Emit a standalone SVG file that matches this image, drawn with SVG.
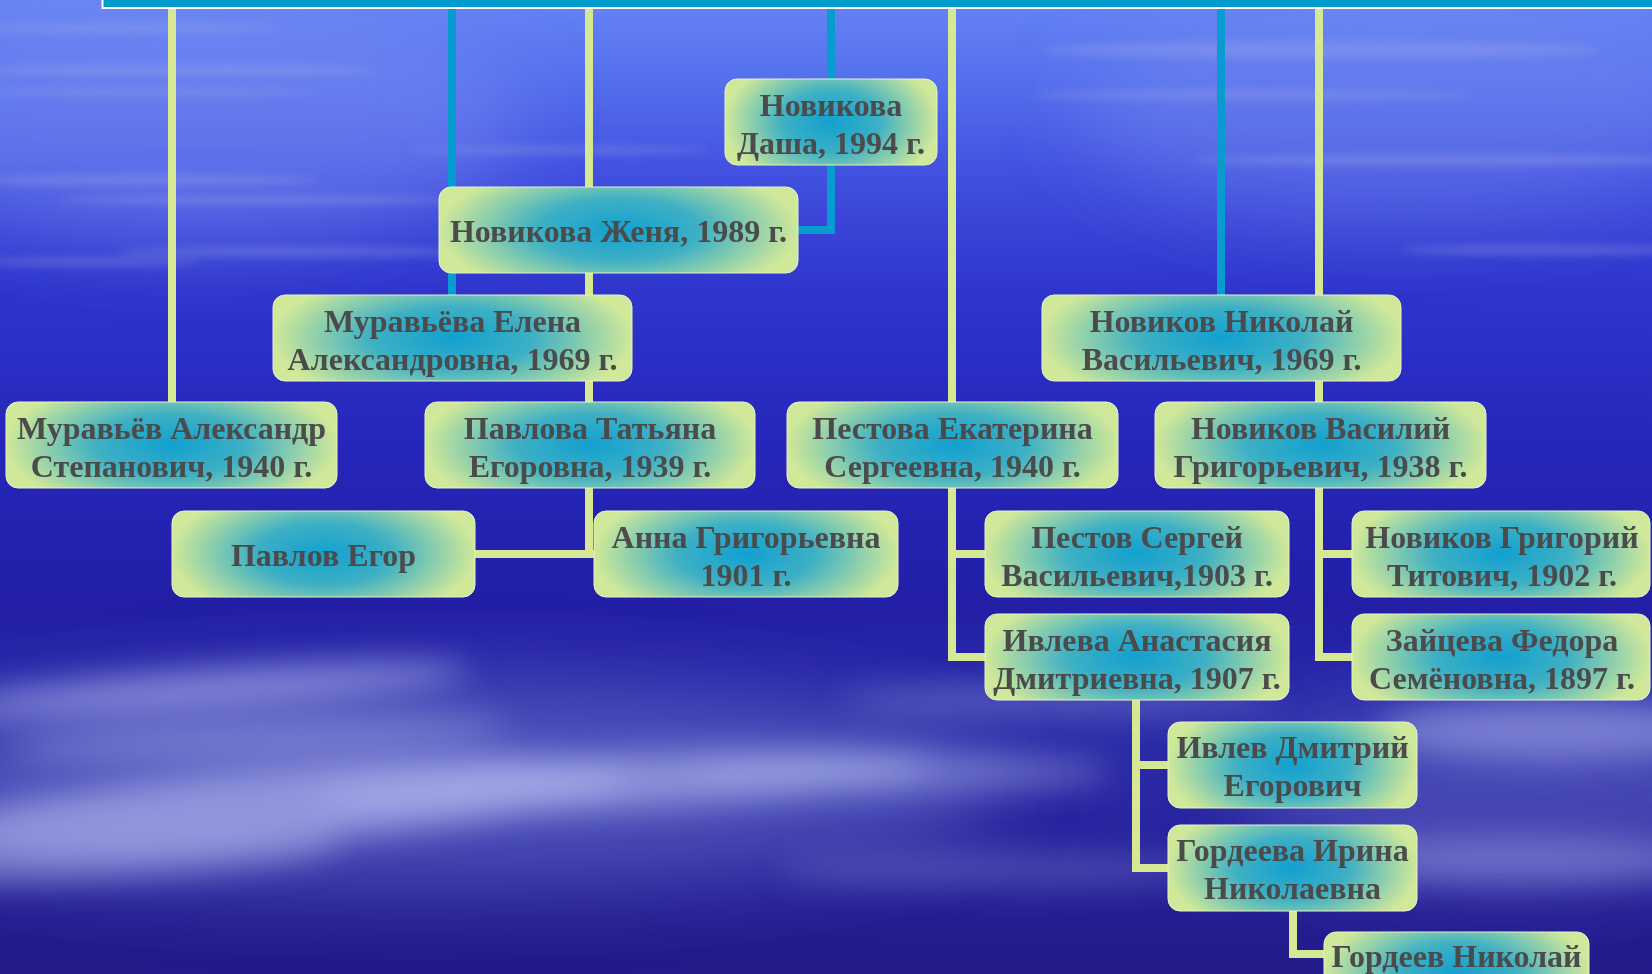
<svg xmlns="http://www.w3.org/2000/svg" width="1652" height="974" viewBox="0 0 1652 974">
<defs>
<linearGradient id="bg" x1="0" y1="0" x2="0" y2="1">
<stop offset="0" stop-color="#6584f4"/>
<stop offset="0.08" stop-color="#5570ee"/>
<stop offset="0.18" stop-color="#4150e0"/>
<stop offset="0.3" stop-color="#2f35cc"/>
<stop offset="0.45" stop-color="#2626bb"/>
<stop offset="0.62" stop-color="#221fa6"/>
<stop offset="0.75" stop-color="#2c2ca8"/>
<stop offset="0.9" stop-color="#25219a"/>
<stop offset="1" stop-color="#221a88"/>
</linearGradient>
<radialGradient id="box" cx="0.5" cy="0.5" r="0.5" gradientTransform="translate(0.5,0.5) scale(1,1.6) translate(-0.5,-0.5)">
<stop offset="0" stop-color="#12a0d0"/>
<stop offset="0.45" stop-color="#3eb0c4"/>
<stop offset="1" stop-color="#cfe899"/>
</radialGradient>
<filter id="blurBig" x="-50%" y="-200%" width="200%" height="500%"><feGaussianBlur stdDeviation="16"/></filter>
<filter id="blurHaze" x="-50%" y="-100%" width="200%" height="300%"><feGaussianBlur stdDeviation="40"/></filter>
<filter id="blurSmall" x="-50%" y="-300%" width="200%" height="700%"><feGaussianBlur stdDeviation="4"/></filter>
<style>
.node rect{fill:url(#box);stroke:#e6f2c8;stroke-width:1;}
.node text{font-family:"Liberation Serif","Times New Roman",serif;font-weight:bold;font-size:32px;fill:#4b4b4b;text-anchor:middle;}
.teal{fill:none;stroke:#089bcf;stroke-width:8;stroke-linejoin:miter;}
.yel{fill:none;stroke:#d6e894;stroke-width:8;stroke-linejoin:miter;}
.cloud{fill:#a6aee8;}
</style>
</defs>
<rect x="0" y="0" width="1652" height="974" fill="url(#bg)"/>
<g id="haze" filter="url(#blurHaze)" fill="#7f92f2">
<ellipse cx="200" cy="120" rx="320" ry="120" opacity="0.45"/>
<ellipse cx="1400" cy="110" rx="320" ry="110" opacity="0.35"/>
<ellipse cx="420" cy="785" rx="580" ry="100" opacity="0.5" fill="#7078d0"/>
<ellipse cx="1500" cy="790" rx="260" ry="90" opacity="0.4" fill="#7078d0"/>
</g>
<g id="clouds-top" filter="url(#blurSmall)" class="cloud" opacity="0.3">
<ellipse cx="120" cy="28" rx="160" ry="5"/>
<ellipse cx="180" cy="70" rx="200" ry="6"/>
<ellipse cx="150" cy="92" rx="170" ry="4"/>
<ellipse cx="140" cy="180" rx="180" ry="6"/>
<ellipse cx="260" cy="200" rx="200" ry="5"/>
<ellipse cx="300" cy="252" rx="180" ry="5"/>
<ellipse cx="80" cy="262" rx="120" ry="4"/>
<ellipse cx="560" cy="150" rx="150" ry="4"/>
<ellipse cx="1320" cy="50" rx="280" ry="9"/>
<ellipse cx="1250" cy="95" rx="220" ry="5"/>
<ellipse cx="1450" cy="160" rx="260" ry="6"/>
<ellipse cx="1550" cy="250" rx="150" ry="5"/>
</g>
<g id="clouds-bottom" filter="url(#blurBig)" class="cloud">
<ellipse cx="210" cy="690" rx="260" ry="18" opacity="0.7" transform="rotate(-4 210 690)"/>
<ellipse cx="260" cy="738" rx="250" ry="16" opacity="0.55" transform="rotate(-3 260 738)"/>
<ellipse cx="280" cy="805" rx="350" ry="38" opacity="0.75" transform="rotate(-5 280 805)"/>
<ellipse cx="620" cy="782" rx="310" ry="26" opacity="0.7" transform="rotate(-3 620 782)"/>
<ellipse cx="900" cy="772" rx="210" ry="18" opacity="0.5"/>
<ellipse cx="130" cy="858" rx="210" ry="20" opacity="0.55" transform="rotate(-4 130 858)"/>
<ellipse cx="1060" cy="700" rx="220" ry="14" opacity="0.4"/>
<ellipse cx="1560" cy="730" rx="180" ry="30" opacity="0.55"/>
<ellipse cx="1520" cy="860" rx="200" ry="24" opacity="0.45"/>
<ellipse cx="1000" cy="870" rx="220" ry="16" opacity="0.3"/>
</g>
<rect x="102.5" y="-10" width="1600" height="18" fill="#009ccc" stroke="#ffffff" stroke-width="2"/>
<g id="connectors">
<path class="teal" d="M452,9 V295"/>
<path class="teal" d="M831,9 V230 H798"/>
<path class="teal" d="M1221,9 V295"/>
<path class="yel" d="M172,9 V402"/>
<path class="yel" d="M589,9 V554 M475,554 H594"/>
<path class="yel" d="M952,9 V657 H985 M952,554 H985"/>
<path class="yel" d="M1319,9 V657 H1352 M1319,554 H1352"/>
<path class="yel" d="M1136,700 V868 H1168 M1136,765 H1168"/>
<path class="yel" d="M1293,911 V954 H1324"/>
</g>
<g id="n-dasha" class="node"><rect x="725" y="79" width="212" height="86" rx="12"/><text x="831" y="116">Новикова</text><text x="831" y="154">Даша, 1994 г.</text></g>
<g id="n-zhenya" class="node"><rect x="439" y="187" width="359" height="86" rx="12"/><text x="618.5" y="242">Новикова Женя, 1989 г.</text></g>
<g id="n-elena" class="node"><rect x="273" y="295" width="359" height="86" rx="12"/><text x="452.5" y="332">Муравьёва Елена</text><text x="452.5" y="370">Александровна, 1969 г.</text></g>
<g id="n-nikolai" class="node"><rect x="1042" y="295" width="359" height="86" rx="12"/><text x="1221.5" y="332">Новиков Николай</text><text x="1221.5" y="370">Васильевич, 1969 г.</text></g>
<g id="n-alexandr" class="node"><rect x="6" y="402" width="331" height="86" rx="12"/><text x="171.5" y="439">Муравьёв Александр</text><text x="171.5" y="477">Степанович, 1940 г.</text></g>
<g id="n-tatyana" class="node"><rect x="425" y="402" width="330" height="86" rx="12"/><text x="590" y="439">Павлова Татьяна</text><text x="590" y="477">Егоровна, 1939 г.</text></g>
<g id="n-ekaterina" class="node"><rect x="787" y="402" width="331" height="86" rx="12"/><text x="952.5" y="439">Пестова Екатерина</text><text x="952.5" y="477">Сергеевна, 1940 г.</text></g>
<g id="n-vasily" class="node"><rect x="1155" y="402" width="331" height="86" rx="12"/><text x="1320.5" y="439">Новиков Василий</text><text x="1320.5" y="477">Григорьевич, 1938 г.</text></g>
<g id="n-egor" class="node"><rect x="172" y="511" width="303" height="86" rx="12"/><text x="323.5" y="566">Павлов Егор</text></g>
<g id="n-anna" class="node"><rect x="594" y="511" width="304" height="86" rx="12"/><text x="746" y="548">Анна Григорьевна</text><text x="746" y="586">1901 г.</text></g>
<g id="n-sergey" class="node"><rect x="985" y="511" width="304" height="86" rx="12"/><text x="1137" y="548">Пестов Сергей</text><text x="1137" y="586">Васильевич,1903 г.</text></g>
<g id="n-grigory" class="node"><rect x="1352" y="511" width="298" height="86" rx="12"/><text x="1502" y="548">Новиков Григорий</text><text x="1502" y="586">Титович, 1902 г.</text></g>
<g id="n-anastasia" class="node"><rect x="985" y="614" width="304" height="86" rx="12"/><text x="1137" y="651">Ивлева Анастасия</text><text x="1137" y="689">Дмитриевна, 1907 г.</text></g>
<g id="n-fedora" class="node"><rect x="1352" y="614" width="298" height="86" rx="12"/><text x="1502" y="651">Зайцева Федора</text><text x="1502" y="689">Семёновна, 1897 г.</text></g>
<g id="n-dmitry" class="node"><rect x="1168" y="722" width="249" height="86" rx="12"/><text x="1292.5" y="758">Ивлев Дмитрий</text><text x="1292.5" y="796">Егорович</text></g>
<g id="n-irina" class="node"><rect x="1168" y="825" width="249" height="86" rx="12"/><text x="1292.5" y="861">Гордеева Ирина</text><text x="1292.5" y="899">Николаевна</text></g>
<g id="n-gordeev" class="node"><rect x="1324" y="932" width="265" height="86" rx="12"/><text x="1456.5" y="967">Гордеев Николай</text></g>
</svg>
